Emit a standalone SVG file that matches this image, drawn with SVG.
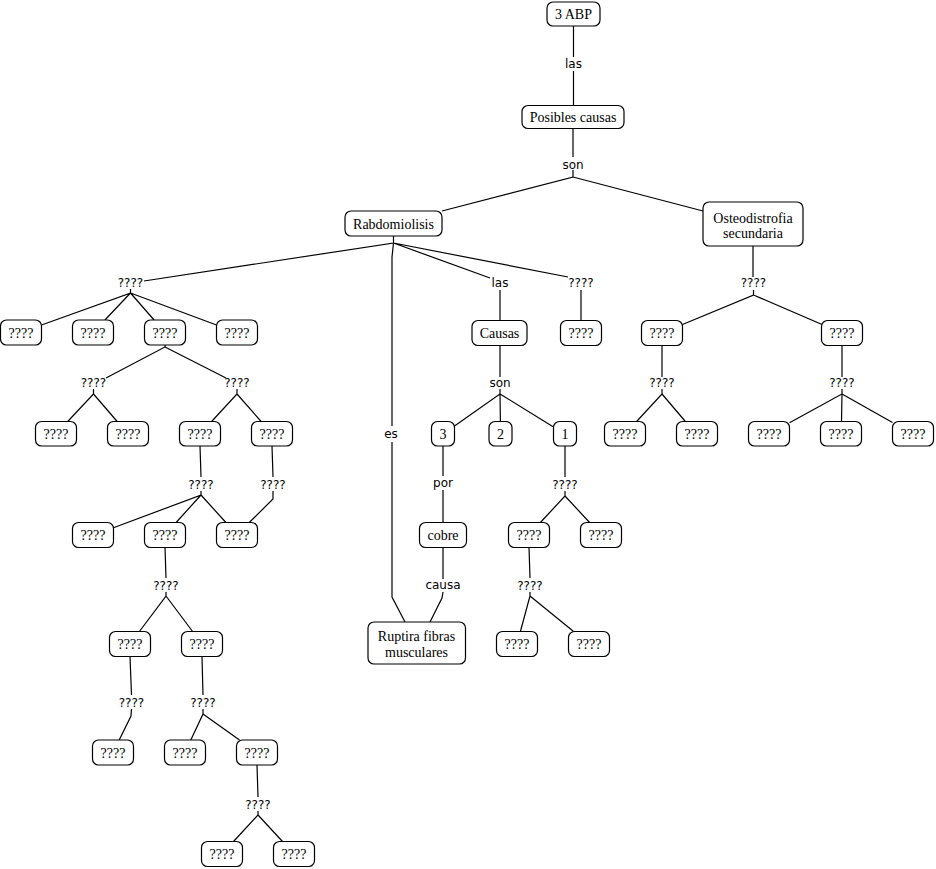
<svg xmlns="http://www.w3.org/2000/svg" width="936" height="869" viewBox="0 0 936 869">
<style>
.n rect{fill:#fff;stroke:#000;stroke-width:1.2}
.n text{font-family:"Liberation Serif","Times New Roman",serif;font-size:14px;fill:#000;text-anchor:middle}
.c path{fill:none;stroke:#000;stroke-width:1.2}
.l{font-family:"DejaVu Sans",sans-serif;font-size:12px;fill:#000;text-anchor:middle}
</style>
<rect width="936" height="869" fill="#fff"/>
<g id="connectors" class="c">
<path d="M573.5,26 V57 M573.5,71 V105.5"/>
<path d="M573,128.5 V157 M573,170 V177 L442,211 M573,177 L703,211"/>
<path d="M393.5,236 V243 L144,281 M393.5,243 L490,278 M393.5,243 L568,277"/>
<path d="M393.5,243 L392,257 V426 M392,442 V597 L405,622"/>
<path d="M500,290 V320.5 M581,290 V320.5"/>
<path d="M130.5,289 V293 L41.5,325 M130.5,293 L104.9,320 M130.5,293 L154.1,320 M130.5,293 L216.5,325"/>
<path d="M165,345 V347 L106,378 M165,347 L226,378"/>
<path d="M93.5,389 V394 L67.7,421.5 M93.5,394 L117.2,421.5"/>
<path d="M237,389 V394 L211.6,421.5 M237,394 L261.1,421.5"/>
<path d="M200,446 L201,477 M201,491 V495 L113.5,527.8 M201,495 L176.1,522.5 M201,495 L225.9,522.5"/>
<path d="M272,446 L273,477 M273,491 V499 L249.3,522.5"/>
<path d="M165,547.5 L166,578 M166,592 V596 L139.4,631.5 M166,596 L192.6,631.5"/>
<path d="M130,656.5 L131.5,695 M131.5,709 L131,716 L119.2,740"/>
<path d="M202,656.5 L203,695 M203,709 V714 L190.8,740 M203,714 L239.5,740"/>
<path d="M257,765 L258,797 M258,811 V815 L233.5,841.5 M258,815 L282.5,841.5"/>
<path d="M500,345.5 V377 M500,389 V394 L454.5,425.9 M500,394 L500.4,421.5 M500,394 L553.5,426.9"/>
<path d="M443,446 V476 M443,490 V522.5"/>
<path d="M443,547.5 V579 M443,592 L442,598 L430,622"/>
<path d="M565,446 V477 M565,491 V496 L540.4,522.5 M565,496 L589.6,522.5"/>
<path d="M529,547.5 L530,578 M530,592 V596 L520.4,631.5 M530,596 L573.6,631.5"/>
<path d="M753,246 V277 M753.5,290 V295 L682.5,324.5 M753.5,295 L821.5,324.2"/>
<path d="M662,345.5 V377 M662,389 V394 L636.6,421.5 M662,394 L685.4,421.5"/>
<path d="M842,345.5 V377 M842,389 V394 L789.5,422.8 M842,394 L841.5,421.5 M842,394 L892.5,422.4"/>
</g>
<g id="labels">
<text class="l" x="573.5" y="68">las</text>
<text class="l" x="573" y="169">son</text>
<text class="l" x="130.5" y="287">????</text>
<text class="l" x="500" y="287">las</text>
<text class="l" x="581" y="287">????</text>
<text class="l" x="753.5" y="287">????</text>
<text class="l" x="93.5" y="387">????</text>
<text class="l" x="237" y="387">????</text>
<text class="l" x="500" y="387">son</text>
<text class="l" x="662" y="387">????</text>
<text class="l" x="842" y="387">????</text>
<text class="l" x="391" y="438">es</text>
<text class="l" x="201" y="489">????</text>
<text class="l" x="273" y="489">????</text>
<text class="l" x="443" y="487">por</text>
<text class="l" x="565" y="489">????</text>
<text class="l" x="166" y="590">????</text>
<text class="l" x="443" y="589">causa</text>
<text class="l" x="530" y="590">????</text>
<text class="l" x="131.5" y="707">????</text>
<text class="l" x="203" y="707">????</text>
<text class="l" x="258" y="808.5">????</text>
</g>
<g id="n_3abp" class="n"><rect x="547" y="2" width="53" height="24" rx="6"/><text x="573.5" y="19">3 ABP</text></g>
<g id="n_posibles" class="n"><rect x="522" y="105.5" width="102" height="23" rx="6"/><text x="573" y="121.5">Posibles causas</text></g>
<g id="n_rabdo" class="n"><rect x="345" y="211" width="97" height="25" rx="6"/><text x="393.5" y="228.5">Rabdomiolisis</text></g>
<g id="n_osteo" class="n"><rect x="703" y="202" width="100" height="44" rx="6"/><text x="753" y="222.5">Osteodistrofia</text><text x="753" y="237.5">secundaria</text></g>
<g id="n_l1a" class="n"><rect x="0.5" y="320" width="41" height="25" rx="6"/><text x="21" y="337.5">????</text></g>
<g id="n_l1b" class="n"><rect x="72.5" y="320" width="41" height="25" rx="6"/><text x="93" y="337.5">????</text></g>
<g id="n_l1c" class="n"><rect x="144.5" y="320" width="41" height="25" rx="6"/><text x="165" y="337.5">????</text></g>
<g id="n_l1d" class="n"><rect x="216.5" y="320" width="41" height="25" rx="6"/><text x="237" y="337.5">????</text></g>
<g id="n_causas" class="n"><rect x="472" y="320.5" width="55" height="25" rx="6"/><text x="499.5" y="337.5">Causas</text></g>
<g id="n_m1" class="n"><rect x="560.5" y="320.5" width="41" height="25" rx="6"/><text x="581" y="337.5">????</text></g>
<g id="n_r1a" class="n"><rect x="641.5" y="320.5" width="41" height="25" rx="6"/><text x="662" y="337.5">????</text></g>
<g id="n_r1b" class="n"><rect x="821.5" y="320.5" width="41" height="25" rx="6"/><text x="842" y="337.5">????</text></g>
<g id="n_l2a" class="n"><rect x="35.5" y="421.5" width="41" height="24.5" rx="6"/><text x="56" y="439">????</text></g>
<g id="n_l2b" class="n"><rect x="107.5" y="421.5" width="41" height="24.5" rx="6"/><text x="128" y="439">????</text></g>
<g id="n_l2c" class="n"><rect x="179.5" y="421.5" width="41" height="24.5" rx="6"/><text x="200" y="439">????</text></g>
<g id="n_l2d" class="n"><rect x="251.5" y="421.5" width="41" height="24.5" rx="6"/><text x="272" y="439">????</text></g>
<g id="n_3" class="n"><rect x="431.5" y="421.5" width="23" height="24.5" rx="6"/><text x="443" y="439">3</text></g>
<g id="n_2" class="n"><rect x="489" y="421.5" width="23" height="24.5" rx="6"/><text x="500.5" y="439">2</text></g>
<g id="n_1" class="n"><rect x="553.5" y="421.5" width="23" height="24.5" rx="6"/><text x="565" y="439">1</text></g>
<g id="n_r2a" class="n"><rect x="604.5" y="421.5" width="41" height="24.5" rx="6"/><text x="625" y="439">????</text></g>
<g id="n_r2b" class="n"><rect x="676.5" y="421.5" width="41" height="24.5" rx="6"/><text x="697" y="439">????</text></g>
<g id="n_r2c" class="n"><rect x="748.5" y="421.5" width="41" height="24.5" rx="6"/><text x="769" y="439">????</text></g>
<g id="n_r2d" class="n"><rect x="820.5" y="421.5" width="41" height="24.5" rx="6"/><text x="841" y="439">????</text></g>
<g id="n_r2e" class="n"><rect x="892.5" y="421.5" width="41" height="24.5" rx="6"/><text x="913" y="439">????</text></g>
<g id="n_l3a" class="n"><rect x="72.5" y="522.5" width="41" height="25" rx="6"/><text x="93" y="540">????</text></g>
<g id="n_l3b" class="n"><rect x="144.5" y="522.5" width="41" height="25" rx="6"/><text x="165" y="540">????</text></g>
<g id="n_l3c" class="n"><rect x="216.5" y="522.5" width="41" height="25" rx="6"/><text x="237" y="540">????</text></g>
<g id="n_cobre" class="n"><rect x="419.5" y="522.5" width="47" height="25" rx="6"/><text x="443" y="540">cobre</text></g>
<g id="n_m3a" class="n"><rect x="508.5" y="522.5" width="41" height="25" rx="6"/><text x="529" y="540">????</text></g>
<g id="n_m3b" class="n"><rect x="580.5" y="522.5" width="41" height="25" rx="6"/><text x="601" y="540">????</text></g>
<g id="n_l4a" class="n"><rect x="109.5" y="631.5" width="41" height="25" rx="6"/><text x="130" y="649">????</text></g>
<g id="n_l4b" class="n"><rect x="181.5" y="631.5" width="41" height="25" rx="6"/><text x="202" y="649">????</text></g>
<g id="n_ruptira" class="n"><rect x="368" y="622" width="97.5" height="42" rx="6"/><text x="416.5" y="641">Ruptira fibras</text><text x="416.5" y="656.5">musculares</text></g>
<g id="n_m4a" class="n"><rect x="496.5" y="631.5" width="41" height="25" rx="6"/><text x="517" y="649">????</text></g>
<g id="n_m4b" class="n"><rect x="568.5" y="631.5" width="41" height="25" rx="6"/><text x="589" y="649">????</text></g>
<g id="n_l5a" class="n"><rect x="92.5" y="740" width="41" height="25" rx="6"/><text x="113" y="757.5">????</text></g>
<g id="n_l5b" class="n"><rect x="164.5" y="740" width="41" height="25" rx="6"/><text x="185" y="757.5">????</text></g>
<g id="n_l5c" class="n"><rect x="236.5" y="740" width="41" height="25" rx="6"/><text x="257" y="757.5">????</text></g>
<g id="n_l6a" class="n"><rect x="201.5" y="841.5" width="41" height="25" rx="6"/><text x="222" y="859">????</text></g>
<g id="n_l6b" class="n"><rect x="273.5" y="841.5" width="41" height="25" rx="6"/><text x="294" y="859">????</text></g>
</svg>
